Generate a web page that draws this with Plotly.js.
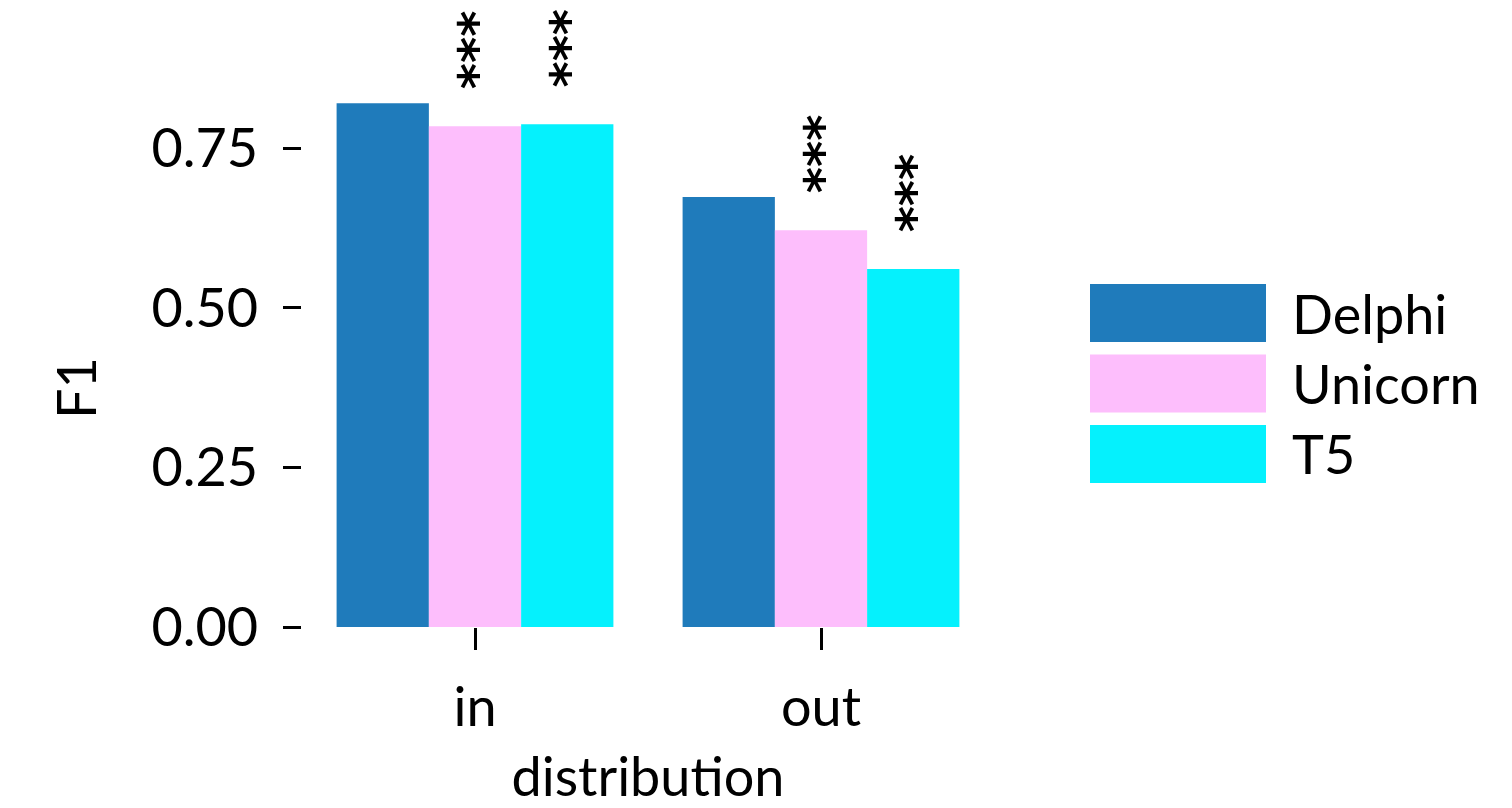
<!DOCTYPE html>
<html>
<head>
<meta charset="utf-8">
<script src="https://cdn.plot.ly/plotly-3.0.1.min.js"></script>
<style>html,body{margin:0;padding:0;background:#fff;}#chart{width:1512px;height:808px;}</style>
</head>
<body>
<div id="chart"></div>
<script>
const categories = ["in", "out"];
const seriesNames = ["Delphi", "Unicorn", "T5"];
const delphi = [0.821, 0.674];
const unicorn = [0.785, 0.622];
const t5 = [0.788, 0.561];
const unicornSig = ["***", "***"];
const t5Sig = ["***", "***"];
const colors = ["#1f7bbb", "#fdbefc", "#05f1fd"];
const yTicks = [0, 0.25, 0.5, 0.75];
const yTickText = ["0.00", "0.25", "0.50", "0.75"];

const FONT = "Lato, 'Open Sans', sans-serif";
const FS = 54;
const values = [delphi, unicorn, t5];
const sigs = [null, unicornSig, t5Sig];

const traces = seriesNames.map((n, i) => ({
  type: "bar", name: n, x: categories, y: values[i],
  marker: {color: colors[i], line: {width: 0}}, showlegend: false, hoverinfo: "x+y+name"
}));

const bargap = 0.2;
const bw = (1 - bargap) / seriesNames.length;
const annotations = [];
sigs.forEach((s, si) => {
  if (!s) return;
  s.forEach((txt, ci) => {
    if (!txt) return;
    annotations.push({
      x: ci + (si - 1) * bw, y: values[si][ci], xref: "x", yref: "y", yshift: 35, xshift: 2,
      text: "<b>" + txt + "</b>", textangle: -90, showarrow: false, xanchor: "center", yanchor: "bottom",
      font: {family: "'DejaVu Sans', sans-serif", size: 50, color: "#000"}
    });
  });
});

const W = 1512, H = 808, ml = 302, mr = 518, mt = 10, mb = 181;
const pw = W - ml - mr, ph = H - mt - mb;
const px = (xp) => (xp - ml) / pw;
const py = (yp) => (H - mb - yp) / ph;

// y-axis title
annotations.push({
  xref: "paper", yref: "paper", x: px(75), y: py(388), text: "F1", textangle: -90, showarrow: false,
  xanchor: "center", yanchor: "middle", font: {family: FONT, size: FS, color: "#000"}
});

// custom legend
const shapes = [];
seriesNames.forEach((n, i) => {
  const top = 284 + i * 70.5;
  shapes.push({type: "rect", xref: "paper", yref: "paper", x0: px(1090), x1: px(1266), y0: py(top + 58), y1: py(top),
    fillcolor: colors[i], line: {width: 0}});
  annotations.push({xref: "paper", yref: "paper", x: px(1290), y: py(top + 29), text: n, showarrow: false,
    xanchor: "left", yanchor: "middle", font: {family: FONT, size: FS, color: "#000"}});
});

const layout = {
  width: W, height: H, margin: {l: ml, r: mr, t: mt, b: mb},
  paper_bgcolor: "#fff", plot_bgcolor: "#fff",
  barmode: "group", bargap: bargap, bargroupgap: 0,
  showlegend: false,
  font: {family: FONT, size: FS, color: "#000"},
  xaxis: {
    type: "category", range: [-0.5, 1.5], showgrid: false, zeroline: false, showline: false,
    ticks: "outside", ticklen: 22, tickwidth: 3, tickcolor: "#000", ticklabelstandoff: 11,
    tickfont: {family: FONT, size: FS, color: "#000"},
    title: {text: "distribution", font: {family: FONT, size: FS, color: "#000"}, standoff: 21}
  },
  yaxis: {
    range: [0, 0.967], showgrid: false, zeroline: false, showline: false,
    tickvals: yTicks, ticktext: yTickText,
    ticks: "outside", ticklen: 18, tickwidth: 3, tickcolor: "#000", ticklabelstandoff: 14,
    tickfont: {family: FONT, size: FS, color: "#000"}
  },
  annotations: annotations, shapes: shapes
};

Plotly.newPlot("chart", traces, layout, {displayModeBar: false, staticPlot: true});
</script>
</body>
</html>
